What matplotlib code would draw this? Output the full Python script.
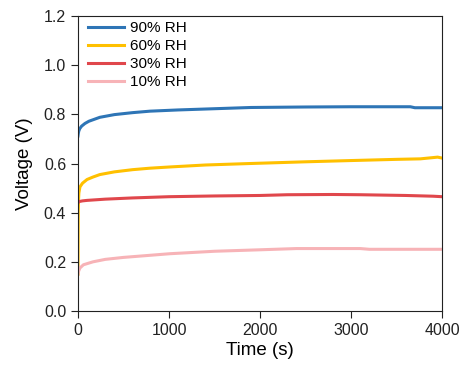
import numpy as np
import matplotlib.pyplot as plt

plt.rcParams['font.family'] = ['Liberation Sans', 'DejaVu Sans']

# readings (time in s, voltage in V)
t_90 = [0, 5, 10, 20, 40, 77, 120, 240, 400, 600, 790, 1100, 1500, 1900, 2500, 3000, 3650, 3700, 4000]
v_90 = [0.712, 0.725, 0.733, 0.742, 0.752, 0.763, 0.772, 0.788, 0.799, 0.807, 0.813, 0.818, 0.823, 0.828, 0.830, 0.831, 0.831, 0.827, 0.827]

t_60 = [0, 3, 6, 10, 22, 50, 100, 165, 240, 400, 600, 790, 1010, 1400, 1890, 2500, 2990, 3500, 3760, 3950, 4000]
v_60 = [0.15, 0.40, 0.45, 0.48, 0.505, 0.52, 0.535, 0.545, 0.555, 0.566, 0.575, 0.581, 0.586, 0.594, 0.600, 0.607, 0.612, 0.617, 0.619, 0.626, 0.622]

t_30 = [0, 10, 50, 100, 300, 600, 1000, 1500, 2000, 2300, 2800, 3100, 3600, 3900, 4000]
v_30 = [0.44, 0.445, 0.448, 0.450, 0.455, 0.460, 0.465, 0.468, 0.470, 0.473, 0.474, 0.473, 0.470, 0.467, 0.465]

t_10 = [0, 5, 22, 60, 165, 300, 500, 1010, 1500, 2000, 2400, 3100, 3200, 4000]
v_10 = [0.15, 0.16, 0.175, 0.188, 0.20, 0.21, 0.218, 0.233, 0.243, 0.249, 0.254, 0.254, 0.251, 0.251]

labels = ['90% RH', '60% RH', '30% RH', '10% RH']
colors = ['#2E75B6', '#FFC000', '#E0474C', '#F7B3B7']

fig = plt.figure(figsize=(4.64, 3.65), dpi=100)
ax = fig.add_axes([0.168, 0.148, 0.785, 0.808])

series = [(t_90, v_90), (t_60, v_60), (t_30, v_30), (t_10, v_10)]
for (t, v), lab, c in zip(series, labels, colors):
    ax.plot(t, v, color=c, lw=2.2, label=lab)

ax.set_xlim(0, 4000)
ax.set_ylim(0, 1.2)
ax.set_xticks([0, 1000, 2000, 3000, 4000])
ax.set_yticks(np.arange(0, 1.21, 0.2))
ax.yaxis.set_major_formatter(plt.FormatStrFormatter('%.1f'))
ax.tick_params(direction='out', length=5, width=0.8, labelsize=11.5, colors='#222222')
for s in ax.spines.values():
    s.set_linewidth(0.8)
    s.set_color('#222222')

ax.set_xlabel('Time (s)', fontsize=13.5, labelpad=3)
ax.set_ylabel('Voltage (V)', fontsize=13.5, labelpad=8)

ax.legend(loc='upper left', bbox_to_anchor=(0.012, 1.0), frameon=False, fontsize=11,
          handlelength=2.35, labelspacing=0.25, borderaxespad=0, borderpad=0.35,
          handletextpad=0.45)

fig.savefig('out.png', dpi=100)
